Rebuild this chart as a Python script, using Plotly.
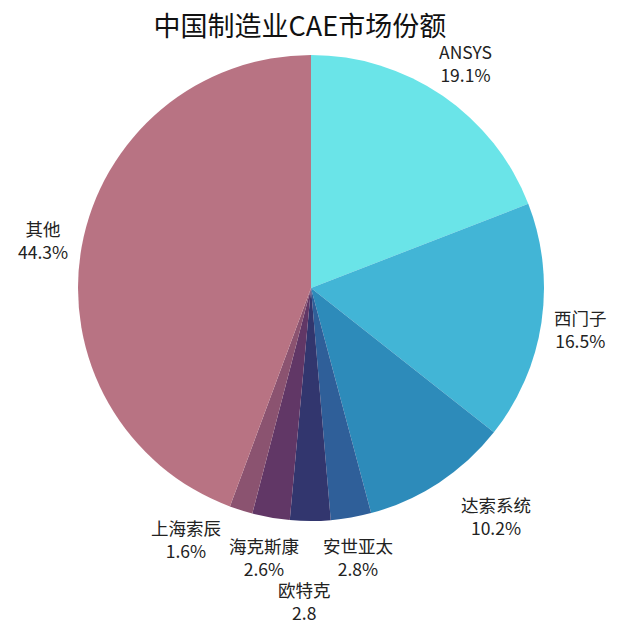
import math
import plotly.graph_objects as go

labels = ["ANSYS", "西门子", "达索系统", "安世亚太", "欧特克", "海克斯康", "上海索辰", "其他"]
values = [19.1, 16.5, 10.2, 2.8, 2.8, 2.6, 1.6, 44.3]
value_texts = ["19.1%", "16.5%", "10.2%", "2.8%", "2.8", "2.6%", "1.6%", "44.3%"]
colors = ["#6ae4e8", "#42b5d6", "#2d8bba", "#2f5f99", "#32366e", "#613766", "#8b5370", "#b87383"]

font_family = "Noto Sans CJK SC, Noto Sans, sans-serif"

W, H = 625, 625
ML, MR, MT, MB = 70, 89, 47, 112
PW, PH = W - ML - MR, H - MT - MB
CX, CY, R = ML + PW / 2, MT + PH / 2, PW / 2

# label collision nudges (pixels), like the reference's label layout
nudges = {"达索系统": (35, 0), "欧特克": (-6, 40), "上海索辰": (-43, -9)}

fig = go.Figure(go.Pie(
    labels=labels,
    values=values,
    textinfo="none",
    sort=False,
    direction="clockwise",
    rotation=0,
    marker=dict(colors=colors, line=dict(color="white", width=0)),
    showlegend=False,
    hoverinfo="label+value",
))

total = sum(values)
cum = 0.0
annotations = []
for lab, val, txt in zip(labels, values, value_texts):
    mid = (cum + val / 2) / total * 2 * math.pi
    cum += val
    px = CX + 1.17 * R * math.sin(mid)
    py = CY - 1.17 * R * math.cos(mid)
    dx, dy = nudges.get(lab, (0, 0))
    px += dx
    py += dy
    annotations.append(dict(
        x=(px - ML) / PW, y=(H - MB - py) / PH, xref="paper", yref="paper",
        text=f"{lab}<br>{txt}", showarrow=False, xanchor="center", yanchor="middle",
        align="center", font=dict(size=17.5, color="#222222", family=font_family),
    ))

fig.update_layout(
    width=W, height=H,
    margin=dict(l=ML, r=MR, t=MT, b=MB),
    paper_bgcolor="white",
    annotations=annotations,
    title=dict(text="中国制造业CAE市场份额", x=0.467, xanchor="center", y=0.986, yanchor="top",
               font=dict(size=27, color="#111111", family=font_family)),
)

fig.write_html("out.html")
